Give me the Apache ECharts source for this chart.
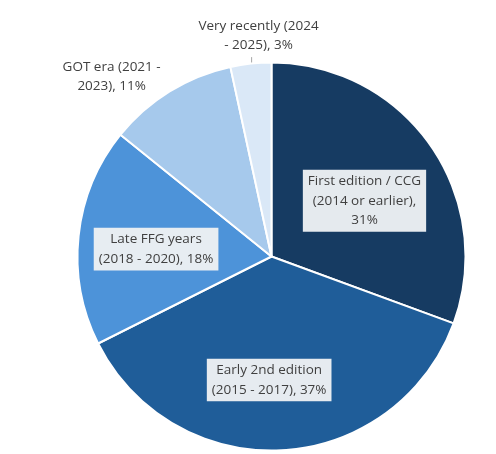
<!DOCTYPE html>
<html>
<head>
<meta charset="utf-8">
<script src="https://cdn.jsdelivr.net/npm/echarts@6/dist/echarts.min.js"></script>
<style>
html,body{margin:0;padding:0;background:#fff;}
#chart{width:496px;height:454px;}
</style>
</head>
<body>
<div id="chart"></div>
<script>
// Data
const categories = [
  "First edition / CCG\n(2014 or earlier)",
  "Early 2nd edition\n(2015 - 2017)",
  "Late FFG years\n(2018 - 2020)",
  "GOT era (2021 -\n2023)",
  "Very recently (2024\n- 2025)"
];
const shares = [30.6, 37.0, 18.2, 10.8, 3.4];
const separators = [",\n", ", ", ", ", ", ", ", "];

// Styles
const colors = ["#163b62", "#1f5d99", "#4d93d9", "#a6c9ec", "#dae8f7"];
const insideIdx = [0, 1, 2];
const labelShift = { 0: [11, 1.5], 1: [-8, 23.7], 2: [-16, 3.3] };

const chart = echarts.init(document.getElementById('chart'), null, { renderer: 'canvas' });

const data = categories.map((name, i) => {
  const inside = insideIdx.indexOf(i) >= 0;
  return {
    name: name,
    value: shares[i],
    itemStyle: { color: colors[i] },
    label: inside ? {
      position: 'inside',
      backgroundColor: 'rgba(236,239,243,0.97)',
      padding: [2, 5, 2, 5]
    } : {
      position: 'outside'
    },
    labelLine: { show: i === 4, length: 6, length2: 0, lineStyle: { color: '#a6a6a6', width: 1 } }
  };
});

chart.setOption({
  animation: false,
  series: [{
    type: 'pie',
    center: [271.5, 256.5],
    radius: 194,
    startAngle: 90,
    clockwise: true,
    percentPrecision: 0,
    avoidLabelOverlap: false,
    itemStyle: { borderColor: '#ffffff', borderWidth: 2 },
    label: {
      show: true,
      color: '#404040',
      fontFamily: 'Open Sans',
      fontSize: 13.5,
      lineHeight: 19.3,
      align: 'center',
      formatter: function (p) {
        return p.name + separators[p.dataIndex] + p.percent + '%';
      }
    },
    labelLayout: function (params) {
      const i = params.dataIndex;
      if (labelShift[i]) {
        return { dx: labelShift[i][0], dy: labelShift[i][1] };
      }
      const p0 = params.labelLinePoints ? params.labelLinePoints[0] : null;
      if (!p0) return {};
      if (i === 4) {
        return {
          x: p0[0] + 7.7,
          y: p0[1] - 27.6,
          align: 'center',
          verticalAlign: 'middle',
          labelLinePoints: [[p0[0] + 0.8, p0[1]], [p0[0] + 0.8, p0[1] - 6.5]]
        };
      }
      return {
        x: p0[0] - 58,
        y: p0[1] - 15,
        align: 'center',
        verticalAlign: 'middle'
      };
    },
    data: data
  }]
});
</script>
</body>
</html>
